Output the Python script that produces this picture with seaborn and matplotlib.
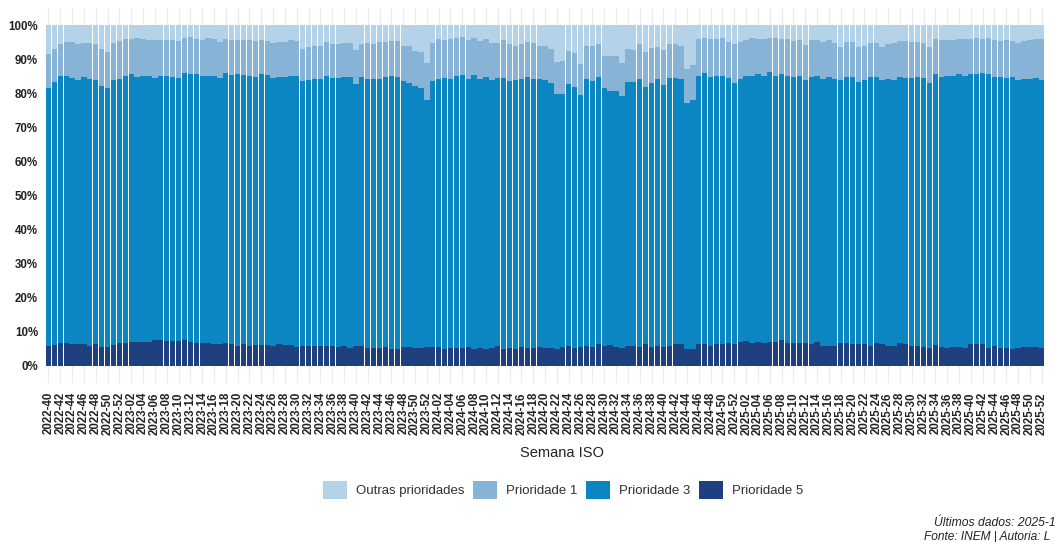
import numpy as np
import pandas as pd
import seaborn as sns
import matplotlib.pyplot as plt
from matplotlib.patches import Patch

# semanas ISO de 2022-40 a 2025-52
semanas = ([f"2022-{w:02d}" for w in range(40, 53)]
           + [f"{a}-{w:02d}" for a in (2023, 2024, 2025) for w in range(1, 53)])

# percentagem acumulada de baixo para cima (P5, P5+P3, P5+P3+P1)
acum_p5 = [
    # 2022
    6.0, 6.2, 6.7, 6.7, 6.5, 6.3, 6.3, 6.0, 6.3, 5.7, 5.7, 6.2, 6.6,
    # 2023
    6.6, 7.0, 7.0, 7.0, 7.0, 7.6, 7.5, 7.2, 7.2, 7.2, 7.5, 7.0, 6.7,
    6.7, 6.7, 6.3, 6.3, 6.6, 6.5, 5.9, 6.5, 5.9, 6.2, 6.2, 6.2, 6.0,
    6.5, 6.2, 6.2, 5.6, 5.9, 5.9, 5.9, 5.9, 5.9, 5.9, 5.7, 5.9, 5.4,
    5.8, 5.9, 5.4, 5.4, 5.4, 5.6, 5.1, 5.1, 5.6, 5.6, 5.4, 5.4, 5.7,
    # 2024
    5.7, 5.7, 5.1, 5.4, 5.4, 5.4, 5.6, 5.1, 5.4, 5.1, 5.4, 5.9, 5.1,
    5.4, 5.1, 5.6, 5.4, 5.4, 5.7, 5.4, 5.4, 5.1, 5.6, 6.0, 5.4, 5.7,
    5.9, 5.6, 6.3, 6.0, 6.2, 5.7, 5.4, 6.0, 6.0, 5.6, 6.3, 5.7, 5.9,
    5.7, 6.0, 6.3, 6.3, 5.1, 5.1, 6.3, 6.3, 6.0, 6.3, 6.3, 6.7, 6.5,
    # 2025
    7.1, 7.4, 6.7, 7.1, 6.8, 7.1, 7.1, 7.5, 6.8, 6.8, 6.6, 6.6, 6.3,
    7.1, 5.9, 5.9, 5.9, 6.7, 6.7, 6.3, 6.5, 6.5, 5.9, 6.8, 6.3, 5.9,
    5.9, 6.6, 6.3, 5.9, 5.9, 5.7, 5.4, 6.2, 5.7, 5.4, 5.7, 5.7, 5.4,
    6.3, 6.3, 6.3, 5.4, 5.9, 5.4, 5.4, 5.0, 5.4, 5.7, 5.7, 5.7, 5.4,
]

acum_p3 = [
    # 2022
    81.6, 83.4, 85.0, 85.1, 84.6, 83.9, 84.8, 84.3, 83.8, 82.1, 81.5, 83.9, 84.3,
    # 2023
    85.1, 85.6, 84.8, 85.0, 85.1, 84.6, 85.2, 85.0, 84.7, 84.5, 85.8, 85.7, 85.7,
    85.0, 85.2, 85.2, 84.5, 85.8, 85.3, 85.6, 85.3, 85.2, 84.9, 85.6, 85.3, 84.6,
    84.8, 84.8, 85.0, 85.0, 83.7, 83.9, 84.3, 84.1, 85.2, 84.4, 84.4, 84.8, 84.8,
    82.7, 84.8, 84.3, 84.1, 84.3, 84.8, 85.2, 84.8, 83.6, 83.0, 82.2, 81.5, 78.0,
    # 2024
    83.5, 84.3, 84.5, 84.3, 85.0, 85.3, 84.3, 85.3, 84.1, 84.8, 83.9, 84.5, 84.4,
    83.6, 83.8, 84.3, 84.8, 84.1, 84.1, 83.9, 83.0, 79.9, 79.9, 82.6, 81.7, 79.5,
    84.1, 83.6, 84.8, 81.4, 80.8, 80.8, 79.1, 83.2, 83.2, 84.1, 81.7, 83.0, 84.3,
    82.4, 84.4, 84.4, 84.3, 77.0, 78.0, 85.0, 85.8, 84.8, 85.0, 85.2, 84.4, 83.0,
    # 2025
    84.3, 85.2, 85.2, 85.5, 85.0, 86.1, 85.2, 85.5, 85.2, 84.8, 85.1, 83.8, 84.8,
    85.2, 84.3, 84.8, 84.3, 84.0, 84.8, 84.8, 83.3, 84.0, 84.8, 84.9, 83.8, 84.3,
    84.0, 84.9, 84.5, 84.6, 84.9, 84.5, 83.1, 85.5, 84.8, 85.0, 85.0, 85.5, 85.1,
    85.5, 85.5, 86.0, 85.5, 84.8, 84.8, 84.6, 84.8, 83.8, 84.1, 84.3, 84.5, 84.0,
]

acum_p1 = [
    # 2022
    91.5, 93.0, 94.5, 95.0, 95.0, 94.4, 94.8, 94.8, 94.5, 93.0, 92.2, 94.7, 95.4,
    # 2023
    95.9, 96.0, 96.1, 95.9, 95.7, 95.6, 95.6, 95.6, 95.6, 95.3, 96.1, 96.5, 95.8,
    95.6, 96.1, 95.9, 95.0, 95.8, 95.7, 95.7, 95.7, 95.7, 95.3, 95.6, 95.4, 94.7,
    95.0, 95.0, 95.5, 95.2, 93.1, 93.5, 94.0, 93.9, 95.0, 94.5, 94.5, 94.7, 94.7,
    92.7, 94.5, 94.7, 94.5, 95.0, 95.0, 95.3, 95.3, 93.9, 93.8, 92.5, 92.1, 89.0,
    # 2024
    94.8, 95.8, 95.6, 95.8, 96.1, 96.4, 95.6, 96.1, 95.3, 95.8, 94.8, 94.8, 95.6,
    94.3, 94.0, 94.3, 95.0, 94.8, 94.0, 94.0, 93.0, 89.1, 89.6, 92.3, 91.9, 88.7,
    93.9, 93.9, 94.5, 90.9, 90.8, 90.8, 89.0, 93.0, 92.7, 94.5, 92.1, 93.3, 93.7,
    92.6, 94.3, 94.5, 93.8, 87.2, 88.2, 95.8, 96.1, 95.8, 95.8, 96.1, 95.0, 94.4,
    # 2025
    95.1, 95.7, 96.3, 95.8, 95.8, 96.3, 96.1, 96.0, 96.0, 95.3, 95.6, 94.2, 95.5,
    95.5, 95.0, 95.5, 94.7, 93.6, 95.1, 94.9, 93.6, 94.0, 94.7, 94.7, 93.5, 94.5,
    94.7, 95.2, 95.2, 95.1, 94.9, 94.7, 93.7, 95.8, 95.5, 95.6, 95.6, 96.0, 95.8,
    95.8, 96.1, 95.8, 96.1, 95.6, 95.3, 95.5, 95.3, 94.6, 95.2, 95.5, 95.8, 95.8,
]

categorias = ["Outras prioridades", "Prioridade 1", "Prioridade 3", "Prioridade 5"]
cores = ["#b4d3e8", "#86b3d6", "#0b86c3", "#1f407f"]

df = pd.DataFrame({"semana": semanas, "total": 100.0,
                   "p1": acum_p1, "p3": acum_p3, "p5": acum_p5})

sns.set_theme(style="white")
plt.rcParams["font.family"] = ["Liberation Sans", "DejaVu Sans"]

W, H = 1055, 542
fig = plt.figure(figsize=(W / 100, H / 100), dpi=100)
ax = fig.add_axes([44.9 / W, 1 - 383 / H, 1000.4 / W, 375 / H])

# barras sobrepostas: total por tras, depois os acumulados por cima
for col, cor in zip(["total", "p1", "p3", "p5"], cores):
    sns.barplot(data=df, x="semana", y=col, order=semanas, color=cor,
                saturation=1, width=0.9, linewidth=0, errorbar=None, ax=ax)

ax.set_xlim(-0.6, len(semanas) - 0.4)
ax.set_ylim(-5, 105)

pos = [i for i, s in enumerate(semanas) if int(s[-2:]) % 2 == 0]
ax.set_xticks(pos, [semanas[i] for i in pos], rotation=90)
ax.set_yticks(range(0, 101, 10), [f"{v}%" for v in range(0, 101, 10)])
ax.tick_params(axis="x", length=0, pad=6.5, labelsize=8.3, labelcolor="#222222")
ax.tick_params(axis="y", length=0, pad=5, labelsize=8.3, labelcolor="#222222")
for lab in ax.get_xticklabels() + ax.get_yticklabels():
    lab.set_fontweight("bold")

ax.xaxis.grid(True, color="#ebebeb", linewidth=1)
ax.yaxis.grid(False)
ax.set_axisbelow(True)
sns.despine(ax=ax, left=True, bottom=True)
ax.set_xlabel("")
ax.set_ylabel("")

fig.text(562 / W, 1 - 453 / H, "Semana ISO", ha="center", va="center",
         fontsize=10.5, color="#222222")

handles = [Patch(facecolor=c, edgecolor="none") for c in cores]
fig.legend(handles, categorias, loc="center", bbox_to_anchor=(563 / W, 1 - 490 / H),
           ncol=4, frameon=False, fontsize=9.5, labelcolor="#303030",
           handlelength=1.8, handleheight=1.72, handletextpad=0.7, columnspacing=0.66)

fig.text(934 / W, 1 - 523 / H, "Últimos dados: 2025-1", ha="left", va="center",
         fontsize=8.7, style="italic", color="#222222")
fig.text(924 / W, 1 - 537 / H, "Fonte: INEM | Autoria: L", ha="left", va="center",
         fontsize=8.6, style="italic", color="#222222")

fig.savefig("out.png", dpi=100)
